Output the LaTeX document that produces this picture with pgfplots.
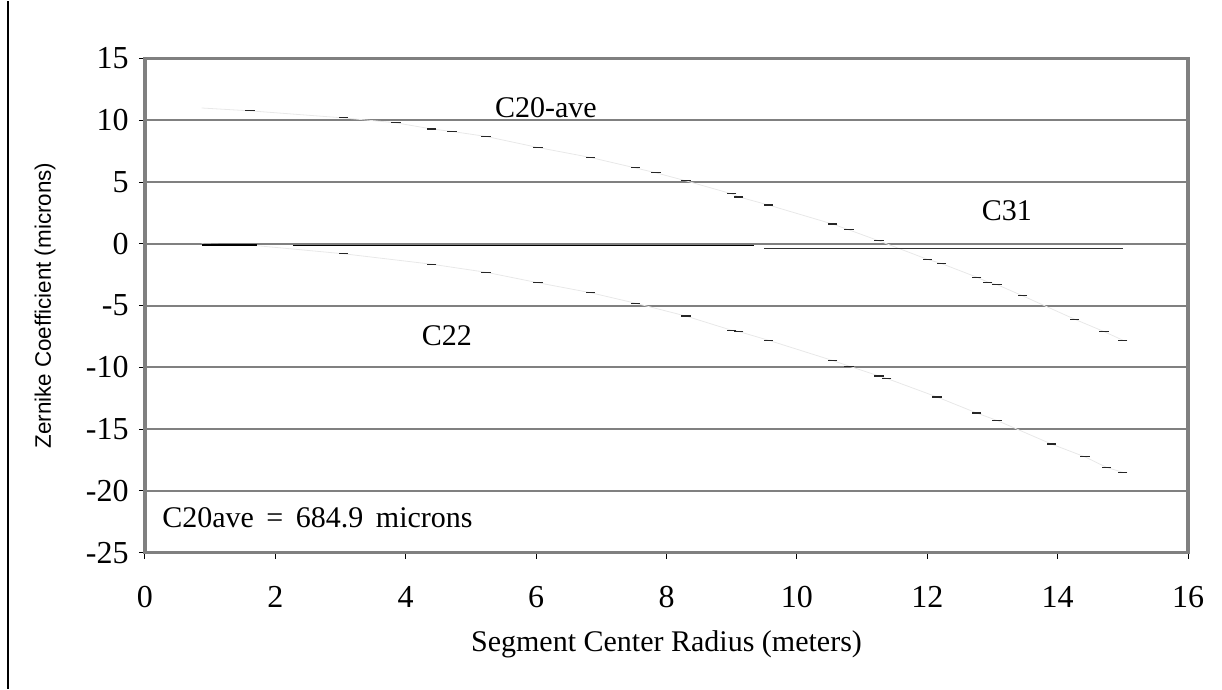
\documentclass[border=0pt]{standalone}
\usepackage{pgfplots}
\pgfplotsset{compat=1.18}
\usepackage{pgfplotstable}
\usepackage{fontspec}
\setmainfont{Liberation Serif}
\newfontfamily\labsans{Liberation Sans}
\definecolor{gridgray}{RGB}{128,128,128}
\definecolor{faint}{RGB}{232,232,232}
\pgfplotstableread{
x y
0.87 11.0
1.61 10.77
3.04 10.2
3.85 9.8
4.40 9.3
4.71 9.1
5.23 8.7
6.03 7.8
6.83 7.0
7.52 6.15
7.84 5.75
8.30 5.1
9.00 4.05
9.11 3.8
9.56 3.15
10.55 1.6
10.80 1.13
11.26 0.24
12.00 -1.25
12.22 -1.6
12.76 -2.7
12.93 -3.1
13.07 -3.3
13.46 -4.2
14.26 -6.1
14.71 -7.1
15.00 -7.8
}\cTwentyAve
\pgfplotstableread{
x y
0.87 0.0
1.72 -0.15
3.04 -0.8
4.40 -1.65
5.23 -2.3
6.03 -3.15
6.83 -3.95
7.52 -4.8
8.30 -5.85
9.00 -7.0
9.11 -7.1
9.56 -7.8
10.55 -9.45
10.80 -9.9
11.26 -10.7
11.38 -10.9
12.15 -12.4
12.76 -13.7
13.07 -14.3
13.90 -16.2
14.42 -17.25
14.75 -18.1
15.00 -18.5
}\cTwoTwo
\begin{document}
\begin{tikzpicture}
\begin{axis}[
  at={(0,0)}, anchor=south west,
  scale only axis,
  width=521.5pt, height=247pt,
  xmin=0, xmax=16, ymin=-25, ymax=15,
  xtick={0,2,...,16}, ytick={-25,-20,...,15},
  ymajorgrids,
  major grid style={gridgray, line width=1pt},
  axis line style={gridgray, line width=1.6pt},
  tick style={black, line width=0.5pt},
  tick align=outside,
  major tick length=3pt,
  xtick pos=bottom, ytick pos=left,
  /pgf/number format/assume math mode=true,
  ticklabel style={font=\fontsize{16}{18}\selectfont},
  xticklabel style={anchor=center, yshift=-19pt},
  yticklabel style={anchor=east, inner sep=0pt, xshift=-5pt},
  xlabel={Segment Center Radius (meters)},
  xlabel style={font=\fontsize{15}{17}\selectfont, at={(axis description cs:0.5,-0.185)}, anchor=center},
  ylabel={Zernike Coefficient (microns)},
  ylabel style={font=\labsans\fontsize{11.2}{13}\selectfont, at={(axis description cs:-0.0959,0.5)}, anchor=center},
  clip=false,
]
\addplot[faint, line width=0.4pt] table[x=x,y=y] {\cTwentyAve};
\addplot[faint, line width=0.4pt] table[x=x,y=y] {\cTwoTwo};
\addplot[black, line width=0.8pt] coordinates {(0.87,-0.1) (1.72,-0.1)};
\addplot[black, line width=0.6pt] coordinates {(2.27,-0.15) (9.34,-0.15)};
\addplot[black!80, line width=0.6pt] coordinates {(9.50,-0.4) (15.0,-0.4)};
\addplot[only marks, mark=-, mark size=2.3pt, mark options={black!85, line width=0.6pt}, skip coords between index={0}{1}] table[x=x,y=y] {\cTwentyAve};
\addplot[only marks, mark=-, mark size=2.3pt, mark options={black!85, line width=0.6pt}, skip coords between index={0}{2}] table[x=x,y=y] {\cTwoTwo};
\node[font=\fontsize{15}{17}\selectfont] at (axis cs:6.15,11.0) {C20-ave};
\node[font=\fontsize{15}{17}\selectfont] at (axis cs:13.22,2.67) {C31};
\node[font=\fontsize{15}{17}\selectfont] at (axis cs:4.63,-7.45) {C22};
\node[font=\fontsize{15}{17}\selectfont, anchor=west, inner sep=0pt] at (axis cs:0.26,-22.2) {C20ave\ \,=\ \,684.9\ \,microns};
\end{axis}
\draw[black, line width=0.6pt] (-68.5pt,-68pt) -- (-68.5pt,276pt);
\useasboundingbox (-72.5pt,-68pt) rectangle (538.5pt,276pt);
\end{tikzpicture}
\end{document}
